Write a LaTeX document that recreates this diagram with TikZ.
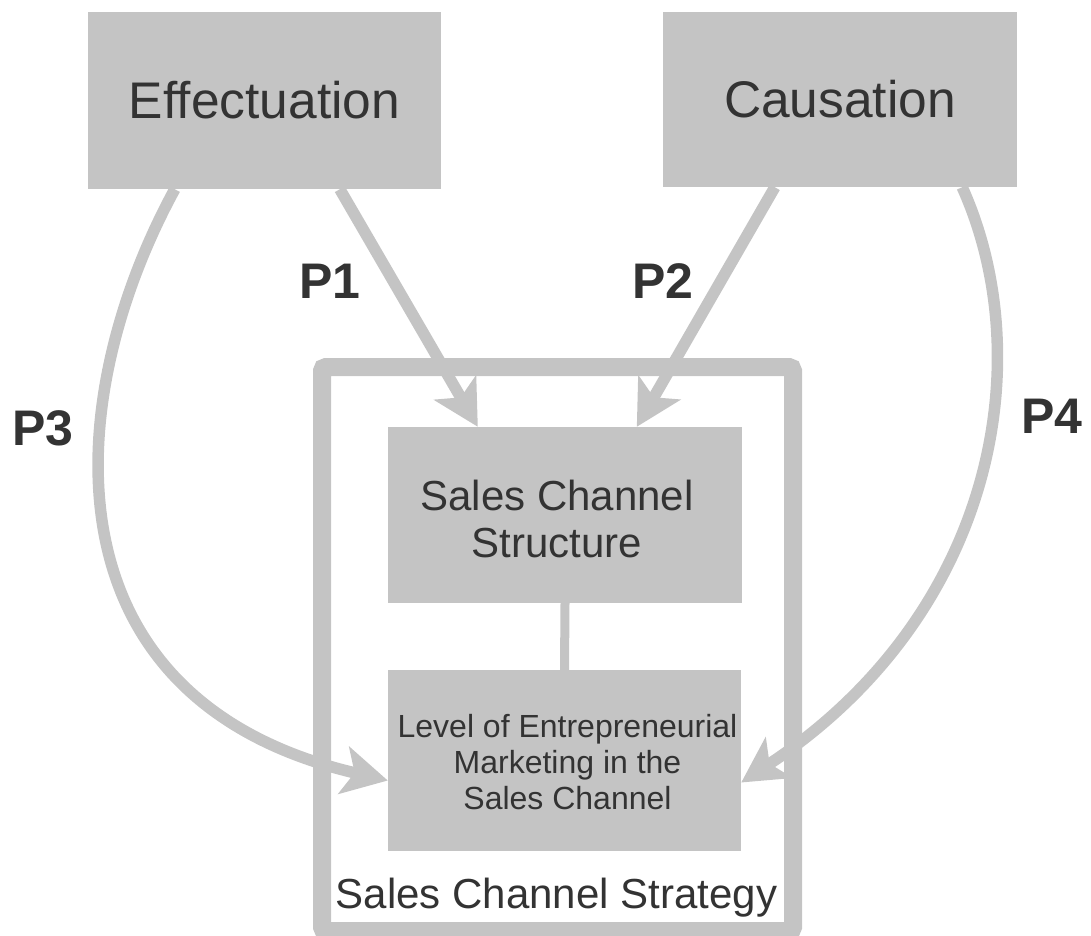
\documentclass[tikz,border=0pt]{standalone}
\usepackage{fontspec}
\setmainfont{Liberation Sans}
\usetikzlibrary{arrows.meta}
\definecolor{boxgray}{RGB}{196,196,196}
\definecolor{txtgray}{RGB}{51,51,51}
\tikzset{
  gbox/.style={fill=boxgray, draw=none, inner sep=0pt, text=txtgray, align=center},
  titletxt/.style={font=\fontsize{51.5}{60}\selectfont},
  midtxt/.style={font=\fontsize{42}{47}\selectfont},
  smalltxt/.style={font=\fontsize{32}{36}\selectfont},
  plabel/.style={text=txtgray, inner sep=0pt, anchor=base, font=\fontsize{50}{56}\selectfont\bfseries},
  conn/.style={draw=boxgray, line width=11.5pt, -{Stealth[length=45pt, width=48pt, inset=11pt]}},
}
\begin{document}
\begin{tikzpicture}[x=1pt, y=-1pt]
\useasboundingbox (0,0) rectangle (1091,935);
% outer frame
\node[draw=boxgray, line width=18pt, rounded corners=4pt, minimum width=471pt, minimum height=564pt, inner sep=0pt] (frame) at (557.5,649) {};
% boxes
\node[gbox, titletxt, minimum width=353pt, minimum height=177pt] (eff) at (264.5,100.5) {Effectuation};
\node[gbox, titletxt, minimum width=354pt, minimum height=175pt] (cau) at (840,99.5) {Causation};
\node[gbox, midtxt, minimum width=354pt, minimum height=176pt] (scs) at (565,515) {\rule{0pt}{38pt}Sales Channel\hspace*{16pt}\\Structure\hspace*{16pt}};
\node[gbox, smalltxt, minimum width=353pt, minimum height=181pt] (lem) at (564.5,760.5) {\rule{0pt}{26pt}\hspace*{6pt}Level of Entrepreneurial\\\hspace*{6pt}Marketing in the\\\hspace*{6pt}Sales Channel};
\node[text=txtgray, inner sep=0pt, anchor=base, midtxt] (strat) at (556.5,908) {Sales Channel Strategy};
% connector between inner boxes
\draw[boxgray, line width=9pt] (scs.south) -- (lem.north);
% arrows
\draw[conn] ([xshift=252pt]eff.south west) -- ([xshift=90pt]scs.north west);
\draw[conn] ([xshift=112pt]cau.south west) -- ([xshift=249pt]scs.north west);
\draw[conn] ([xshift=87pt]eff.south west) .. controls (60,400) and (40,700) .. ([yshift=-20pt]lem.west);
\draw[conn] ([xshift=-55pt]cau.south east) .. controls (1040,360) and (995,615) .. ([yshift=-22pt]lem.east);
% labels
\node[plabel] (p1) at (330,298) {P1};
\node[plabel] (p2) at (663,298) {P2};
\node[plabel] (p3) at (43,445) {P3};
\node[plabel] (p4) at (1052,433) {P4};
\end{tikzpicture}
\end{document}
